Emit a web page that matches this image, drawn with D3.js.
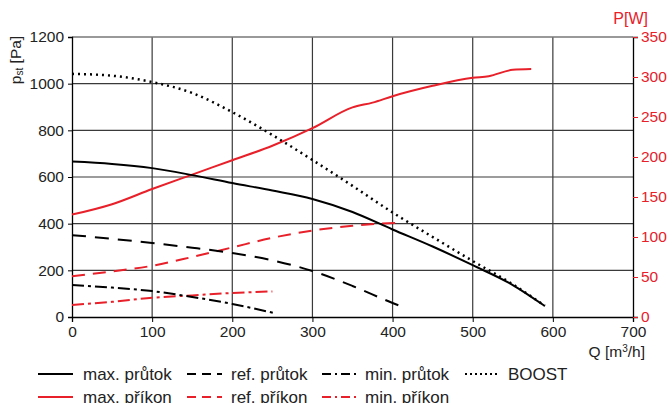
<!DOCTYPE html>
<html><head><meta charset="utf-8">
<script src="https://cdn.jsdelivr.net/npm/d3@7/dist/d3.min.js"></script>
<style>body{margin:0;background:#fff}svg{display:block;font-family:"Liberation Sans",Arial,sans-serif}</style>
</head><body><svg id="c" width="672" height="403"></svg>
<script>
const xTicks=[0,100,200,300,400,500,600,700];
const yTicksPa=[0,200,400,600,800,1000,1200];
const yTicksW=[0,50,100,150,200,250,300,350];
const maxPrutok=[[0,666],[50,656],[100,638],[150,608],[200,574],[250,542],[300,506],[350,450],[400,375],[450,302],[500,222],[550,137],[590,47]];
const refPrutok=[[0,351],[50,335],[100,317],[150,297],[200,274],[250,243],[300,197],[350,133],[400,60],[415,40]];
const minPrutok=[[0,137],[50,126],[100,111],[150,86],[200,56],[252,17]];
const boost=[[0,1042],[50,1034],[100,1007],[150,960],[200,878],[250,780],[300,673],[350,562],[400,448],[450,343],[500,240],[550,140],[590,48]];
const maxPrikon=[[0,128],[50,141],[100,160],[150,178],[200,196],[250,214],[300,236],[350,262],[375,268],[400,276],[450,289],[500,299],[520,301],[550,309],[573,310]];
const refPrikon=[[0,51],[50,57],[100,64],[150,75],[200,87],[250,99],[300,108],[350,114],[410,118]];
const minPrikon=[[0,15],[50,19],[100,24],[150,27],[200,30],[250,32]];
const legendRows=[
 [{t:"max. průtok",c:"#000",d:null},{t:"ref. průtok",c:"#000",d:"9,6"},{t:"min. průtok",c:"#000",d:"9,4,2,4"},{t:"BOOST",c:"#000",d:"2,3"}],
 [{t:"max. příkon",c:"#e8202a",d:null},{t:"ref. příkon",c:"#e8202a",d:"9,6"},{t:"min. příkon",c:"#e8202a",d:"9,4,2,4"}]
];
const RED="#e8202a";
const svg=d3.select("#c");
const L=72,R=633,T=37,B=317;
const x=d3.scaleLinear().domain([0,700]).range([L,R]);
const yP=d3.scaleLinear().domain([0,1200]).range([B,T]);
const yW=d3.scaleLinear().domain([0,350]).range([B,T]);
// grid
const g=svg.append("g");
g.selectAll(".vx").data(xTicks.slice(1,-1)).enter().append("line").attr("x1",d=>x(d)).attr("x2",d=>x(d)).attr("y1",T).attr("y2",B).attr("stroke","#3a3a3a").attr("stroke-width",1.2);
g.selectAll(".hy").data(yTicksPa.slice(1,-1)).enter().append("line").attr("x1",L).attr("x2",R).attr("y1",d=>yP(d)).attr("y2",d=>yP(d)).attr("stroke","#3a3a3a").attr("stroke-width",1.2);
g.append("line").attr("x1",L).attr("x2",R).attr("y1",T).attr("y2",T).attr("stroke","#777").attr("stroke-width",1.5);
// axes
const fmt=d3.format("d");
const ax=svg.append("g").attr("transform",`translate(0,${B})`).call(d3.axisBottom(x).tickValues(xTicks).tickFormat(fmt).tickSize(5).tickPadding(4));
const ayl=svg.append("g").attr("transform",`translate(${L},0)`).call(d3.axisLeft(yP).tickValues(yTicksPa).tickFormat(fmt).tickSize(4).tickPadding(4));
const ayr=svg.append("g").attr("transform",`translate(${R},0)`).call(d3.axisRight(yW).tickValues(yTicksW).tickFormat(fmt).tickSize(5).tickPadding(3));
[ax,ayl,ayr].forEach(a=>{a.selectAll("text").attr("font-size",15.5).attr("font-family","Liberation Sans, Arial, sans-serif").attr("fill","#222");a.select(".domain").attr("stroke","#000").attr("stroke-width",1.3);a.selectAll(".tick line").attr("stroke","#000");});
ayr.selectAll("text").attr("fill",RED);
ayr.selectAll(".tick line").attr("stroke",RED);
ayr.select(".domain").attr("stroke","#000");
// axis titles
svg.append("text").attr("x",645).attr("y",357).attr("text-anchor","end").attr("font-size",15.5).attr("fill","#222").html('Q [m<tspan dy="-5" font-size="10">3</tspan><tspan dy="5">/h]</tspan>');
svg.append("text").attr("x",648).attr("y",24).attr("text-anchor","end").attr("font-size",16).attr("fill",RED).text("P[W]");
svg.append("text").attr("transform","translate(21,60) rotate(-90)").attr("text-anchor","middle").attr("font-size",15.5).attr("fill","#222").html('p<tspan font-size="10" dy="2">st</tspan><tspan dy="-2"> [Pa]</tspan>');
// lines
const lineP=d3.line().x(d=>x(d[0])).y(d=>yP(d[1])).curve(d3.curveMonotoneX);
const lineW=d3.line().x(d=>x(d[0])).y(d=>yW(d[1])).curve(d3.curveMonotoneX);
const series=[
 {d:refPrikon,l:lineW,c:RED,da:"13,8",w:2},
 {d:minPrikon,l:lineW,c:RED,da:"12,4,3,4",w:2},
 {d:maxPrikon,l:lineW,c:RED,da:null,w:2},
 {d:refPrutok,l:lineP,c:"#000",da:"14,9",w:2},
 {d:minPrutok,l:lineP,c:"#000",da:"12,4,3,4",w:2},
 {d:boost,l:lineP,c:"#000",da:"2,4",w:2.5},
 {d:maxPrutok,l:lineP,c:"#000",da:null,w:2}
];
series.forEach(s=>{svg.append("path").attr("d",s.l(s.d)).attr("fill","none").attr("stroke",s.c).attr("stroke-width",s.w).attr("stroke-dasharray",s.da);});
// legend
const colX=[[38,83],[187,231],[322,365],[465,508]];
legendRows.forEach((row,ri)=>{
 const yy=[374,397][ri];
 row.forEach((it,ci)=>{
  svg.append("line").attr("x1",colX[ci][0]).attr("x2",colX[ci][0]+35).attr("y1",yy).attr("y2",yy).attr("stroke",it.c).attr("stroke-width",2).attr("stroke-dasharray",it.d);
  svg.append("text").attr("x",colX[ci][1]).attr("y",yy+5.5).attr("font-size",17).attr("fill","#222").text(it.t);
 });
});
</script></body></html>
